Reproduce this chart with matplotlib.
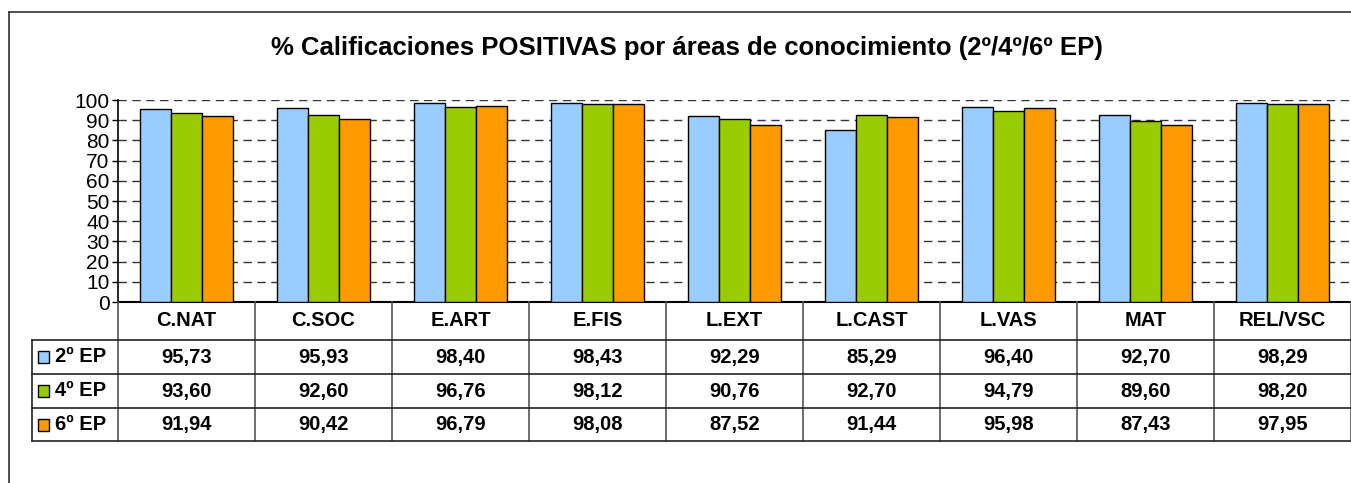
import matplotlib
matplotlib.use("Agg")
import matplotlib.pyplot as plt
import matplotlib.transforms as mtransforms
from matplotlib.patches import Rectangle
from matplotlib.lines import Line2D
import numpy as np

plt.rcParams['font.family'] = ['Liberation Sans', 'DejaVu Sans']

areas = ['C.NAT', 'C.SOC', 'E.ART', 'E.FIS', 'L.EXT', 'L.CAST', 'L.VAS', 'MAT', 'REL/VSC']
series = ['2º EP', '4º EP', '6º EP']
ep2 = [95.73, 95.93, 98.40, 98.43, 92.29, 85.29, 96.40, 92.70, 98.29]
ep4 = [93.60, 92.60, 96.76, 98.12, 90.76, 92.70, 94.79, 89.60, 98.20]
ep6 = [91.94, 90.42, 96.79, 98.08, 87.52, 91.44, 95.98, 87.43, 97.95]
colors = ['#99CCFF', '#99CC00', '#FF9900']

W, H = 1351, 483
fig = plt.figure(figsize=(W / 100, H / 100), dpi=100)

def fy(py):
    return 1 - py / H

# axes: x 118..1351 px, y 100..302 px
ax = fig.add_axes([118 / W, fy(302), (W - 118) / W, (302 - 100) / H])
x = np.arange(len(areas))
bw = 0.226
for i, vals in enumerate([ep2, ep4, ep6]):
    ax.bar(x + (i - 1) * bw, vals, width=bw, color=colors[i],
           edgecolor='black', linewidth=1, zorder=3)

ax.set_xlim(-0.5, len(areas) - 0.5)
ax.set_ylim(0, 100)
ax.set_yticks(range(0, 101, 10))
ax.tick_params(axis='y', labelsize=15, length=4, width=1, pad=2)
ax.set_xticks([])
ax.yaxis.grid(True, linestyle=(0, (6, 4)), color='#333333', linewidth=1, zorder=0)
for s in ['top', 'right']:
    ax.spines[s].set_visible(False)
ax.spines['left'].set_linewidth(1.2)
ax.spines['bottom'].set_linewidth(1.5)

# data table under the plot
tr = mtransforms.blended_transform_factory(ax.transData, fig.transFigure)
rows_y = [302, 340, 374, 408, 441]
lc = '#222222'
for k in range(len(areas) + 1):
    b = k - 0.5
    fig.add_artist(Line2D([b, b], [fy(302), fy(441)], transform=tr, color='#555555', lw=1.2))
for ry in rows_y[1:]:
    fig.add_artist(Line2D([32 / W, 1], [fy(ry), fy(ry)], transform=fig.transFigure, color=lc, lw=1.2))
fig.add_artist(Line2D([32 / W, 32 / W], [fy(340), fy(441)], transform=fig.transFigure, color=lc, lw=1.2))

fs = 14.5
for j, name in enumerate(areas):
    fig.text(x[j], fy(321), name, transform=tr, ha='center', va='center',
             fontsize=fs, fontweight='bold')
for r, vals in enumerate([ep2, ep4, ep6]):
    cy = (rows_y[r + 1] + rows_y[r + 2]) / 2
    for j, v in enumerate(vals):
        fig.text(x[j], fy(cy), f'{v:.2f}'.replace('.', ','), transform=tr,
                 ha='center', va='center', fontsize=fs, fontweight='bold')
    fig.add_artist(Rectangle((38 / W, fy(cy + 6)), 11 / W, 12 / H, transform=fig.transFigure,
                             facecolor=colors[r], edgecolor='black', lw=1))
    fig.text(55 / W, fy(cy), series[r], ha='left', va='center', fontsize=fs, fontweight='bold')

# outer chart frame
fig.add_artist(Line2D([9 / W, 9 / W], [fy(12), 0], transform=fig.transFigure, color='#333333', lw=1.2))
fig.add_artist(Line2D([9 / W, 1], [fy(12), fy(12)], transform=fig.transFigure, color='#333333', lw=1.2))

fig.text(687 / W, fy(48), '% Calificaciones POSITIVAS por áreas de conocimiento (2º/4º/6º EP)',
         ha='center', va='center', fontsize=18.5, fontweight='bold')

fig.savefig('out.png', dpi=100)
